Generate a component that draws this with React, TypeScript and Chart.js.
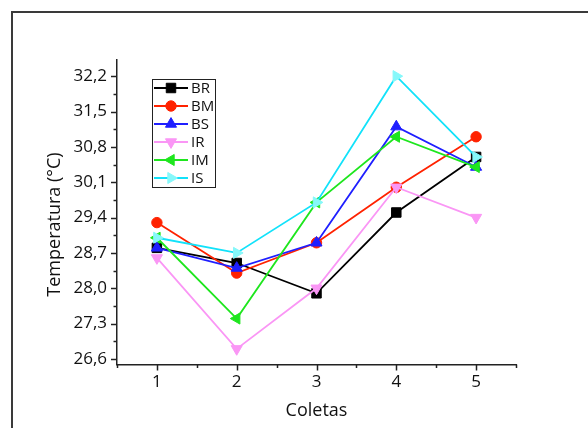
import React, { useEffect, useRef } from 'react';
import { Chart, registerables } from 'chart.js';
import { drawPoint } from 'chart.js/helpers';

Chart.register(...registerables);

// ---- data ----
const coletas = [1, 2, 3, 4, 5];
const BR = [28.8, 28.5, 27.9, 29.5, 30.6];
const BM = [29.3, 28.3, 28.9, 30.0, 31.0];
const BS = [28.8, 28.4, 28.9, 31.2, 30.4];
const IR = [28.6, 26.8, 28.0, 30.0, 29.4];
const IM = [29.0, 27.4, 29.7, 31.0, 30.4];
const IS = [29.0, 28.7, 29.7, 32.2, 30.6];
const yTickValues = [26.6, 27.3, 28.0, 28.7, 29.4, 30.1, 30.8, 31.5, 32.2];
const yMinorValues = [26.95, 27.65, 28.35, 29.05, 29.75, 30.45, 31.15, 31.85];
const xMinorValues = [0.5, 1.5, 2.5, 3.5, 4.5, 5.5];
const xTitle = 'Coletas';
const yTitle = 'Temperatura (°C)';

const FONT = '"Open Sans", "Noto Sans", sans-serif';

const seriesDefs = [
  { name: 'BR', values: BR, line: '#000000', fill: '#000000', style: 'rect', rot: 0, r: 6.7 },
  { name: 'BM', values: BM, line: '#ff2200', fill: '#ff2200', style: 'circle', rot: 0, r: 5.2 },
  { name: 'BS', values: BS, line: '#1f1fff', fill: '#1f1fff', style: 'triangle', rot: 0, r: 6.4 },
  { name: 'IR', values: IR, line: '#fa96f5', fill: '#fa96f5', style: 'triangle', rot: 180, r: 6.4 },
  { name: 'IM', values: IM, line: '#1ee61e', fill: '#1ee61e', style: 'triangle', rot: 270, r: 6.4 },
  { name: 'IS', values: IS, line: '#12e2fa', fill: '#86f8fa', style: 'triangle', rot: 90, r: 6.4 },
];

const decorPlugin = {
  id: 'decor',
  beforeDraw(chart: any) {
    const ctx = chart.ctx;
    ctx.save();
    ctx.fillStyle = '#ffffff';
    ctx.fillRect(0, 0, chart.width, chart.height);
    ctx.strokeStyle = '#3a3a3a';
    ctx.lineWidth = 2;
    ctx.strokeRect(12, 12, chart.width + 20, chart.height + 20);
    ctx.restore();
  },
  afterDraw(chart: any) {
    const { ctx, chartArea } = chart;
    const x = chart.scales.x;
    const y = chart.scales.y;
    ctx.save();
    ctx.strokeStyle = '#222';
    ctx.lineWidth = 1.5;
    const seg = (x1: number, y1: number, x2: number, y2: number) => {
      ctx.beginPath();
      ctx.moveTo(x1, y1);
      ctx.lineTo(x2, y2);
      ctx.stroke();
    };
    for (const v of yTickValues) {
      const py = Math.round(y.getPixelForValue(v)) + 0.5;
      seg(chartArea.left - 6, py, chartArea.left, py);
    }
    for (const v of yMinorValues) {
      const py = Math.round(y.getPixelForValue(v)) + 0.5;
      seg(chartArea.left - 3.5, py, chartArea.left, py);
    }
    for (const v of coletas) {
      const px = Math.round(x.getPixelForValue(v)) + 0.5;
      seg(px, chartArea.bottom, px, chartArea.bottom + 6);
    }
    for (const v of xMinorValues) {
      const px = Math.round(x.getPixelForValue(v)) + 0.5;
      seg(px, chartArea.bottom, px, chartArea.bottom + 3.5);
    }

    // y axis title
    ctx.save();
    ctx.translate(55, 224.5);
    ctx.rotate(-Math.PI / 2);
    ctx.fillStyle = '#111';
    ctx.font = `18px ${FONT}`;
    ctx.textAlign = 'center';
    ctx.textBaseline = 'middle';
    ctx.fillText(yTitle, 0, 0);
    ctx.restore();

    // legend
    const lx = 152.5, ly = 79.5, lw = 63, lh = 108;
    ctx.fillStyle = '#fff';
    ctx.fillRect(lx, ly, lw, lh);
    ctx.strokeStyle = '#222';
    ctx.lineWidth = 1;
    ctx.strokeRect(lx, ly, lw, lh);
    chart.data.datasets.forEach((ds: any, i: number) => {
      const s = seriesDefs[i];
      const cy = 88 + i * 18;
      ctx.strokeStyle = s.line;
      ctx.lineWidth = 1.8;
      seg(154, cy, 188, cy);
      ctx.fillStyle = s.fill;
      ctx.strokeStyle = s.fill;
      ctx.lineWidth = 1;
      drawPoint(ctx, { pointStyle: s.style, rotation: s.rot, radius: s.r, borderWidth: 1 } as any, 171, cy);
      ctx.fillStyle = '#111';
      ctx.font = `15px ${FONT}`;
      ctx.textAlign = 'left';
      ctx.textBaseline = 'middle';
      ctx.fillText(ds.label, 191, cy + 0.5);
    });
    ctx.restore();
  },
};

export default function App() {
  const ref = useRef<HTMLCanvasElement | null>(null);
  useEffect(() => {
    if (!ref.current) return;
    const datasets = seriesDefs.map((s, i) => ({
      label: s.name,
      data: coletas.map((c, j) => ({ x: c, y: s.values[j] })),
      borderColor: s.line,
      backgroundColor: s.fill,
      pointBackgroundColor: s.fill,
      pointBorderColor: s.fill,
      pointStyle: s.style,
      pointRotation: s.rot,
      pointRadius: s.r,
      pointBorderWidth: 1,
      borderWidth: 1.8,
      tension: 0,
      order: seriesDefs.length - i,
    }));
    const chart = new Chart(ref.current, {
      type: 'line',
      data: { datasets } as any,
      options: {
        responsive: false,
        animation: false,
        devicePixelRatio: 1,
        layout: { padding: { left: 0, right: 72, top: 60, bottom: 0 } },
        plugins: { legend: { display: false }, tooltip: { enabled: false } },
        scales: {
          x: {
            type: 'linear',
            min: 0.5,
            max: 5.5,
            afterFit: (s: any) => { s.height = 63.5; },
            afterBuildTicks: (s: any) => { s.ticks = coletas.map((v) => ({ value: v })); },
            grid: { display: false, drawTicks: false },
            border: { display: true, color: '#222', width: 1.5 },
            ticks: {
              padding: 7,
              color: '#111',
              font: { family: FONT, size: 17 },
              callback: (v: any) => String(v),
            },
            title: {
              display: true,
              text: xTitle,
              color: '#111',
              font: { family: FONT, size: 18 },
              padding: { top: 0, bottom: 6 },
            },
          },
          y: {
            type: 'linear',
            min: 26.49,
            max: 32.52,
            afterFit: (s: any) => { s.width = 117; },
            afterBuildTicks: (s: any) => { s.ticks = yTickValues.map((v) => ({ value: v })); },
            grid: { display: false, drawTicks: false },
            border: { display: true, color: '#222', width: 1.5 },
            ticks: {
              padding: 10,
              color: '#111',
              font: { family: FONT, size: 17 },
              callback: (v: any) => Number(v).toFixed(1).replace('.', ','),
            },
          },
        },
      } as any,
      plugins: [decorPlugin],
    });
    return () => chart.destroy();
  }, []);
  return (
    <div style={{ position: 'fixed', left: 0, top: 0, width: 588, height: 428, overflow: 'hidden', background: '#fff' }}>
      <canvas ref={ref} width={588} height={428} style={{ display: 'block' }} />
    </div>
  );
}
